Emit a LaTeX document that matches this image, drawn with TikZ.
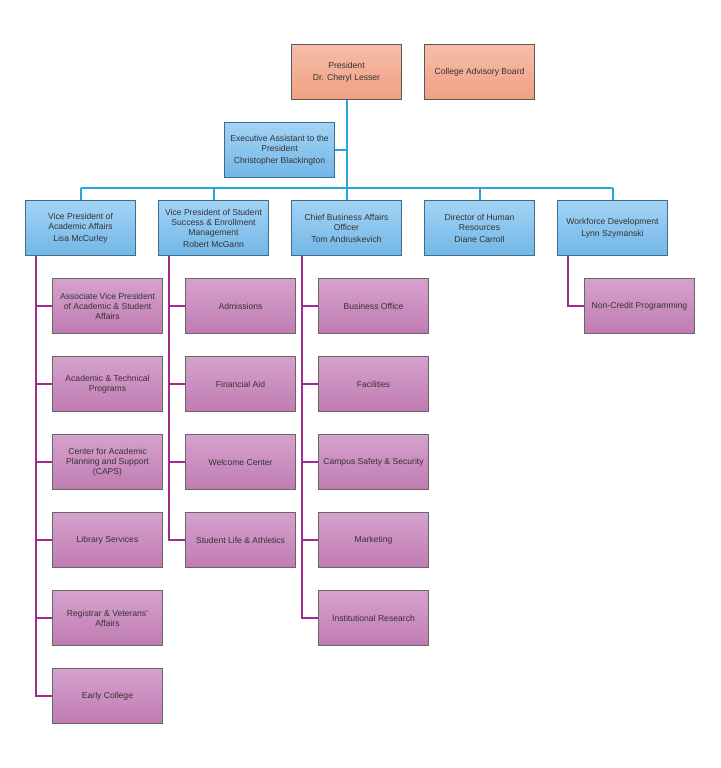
\documentclass[tikz,border=0pt]{standalone}
\usepackage{fontspec}
\setmainfont{Liberation Sans}
\begin{document}
\begin{tikzpicture}[x=1pt,y=-1pt,
  base/.style={minimum width=110pt,minimum height=55pt,inner sep=1pt,align=center,
    font=\fontsize{8.6}{10}\selectfont,text=black!80,line width=0.6pt},
  orangebox/.style={base,draw=black!65,top color=orgT,bottom color=orgB},
  bluebox/.style={base,draw=blueD,top color=bluT,bottom color=bluB},
  purplebox/.style={base,draw=black!60,top color=purT,bottom color=purB},
  bline/.style={draw=lineB,line width=2pt},
  pline/.style={draw=lineP,line width=1.6pt}]
\definecolor{orgT}{HTML}{F6BDA8}
\definecolor{orgB}{HTML}{F0A082}
\definecolor{bluT}{HTML}{A3D3F5}
\definecolor{bluB}{HTML}{72B7E7}
\definecolor{blueD}{HTML}{3E6B8F}
\definecolor{purT}{HTML}{D6A1CD}
\definecolor{purB}{HTML}{C07CB2}
\definecolor{lineB}{HTML}{2AA5DC}
\definecolor{lineP}{HTML}{A02A90}
\useasboundingbox (0,0) rectangle (720,768);
\fill[white] (0,0) rectangle (720,768);

\coordinate (busL) at (80.5,188);
\coordinate (busR) at (612.5,188);

\node[orangebox] (pres) at (346.5,72) {President\\[2pt]Dr. Cheryl Lesser};
\node[orangebox] (cab) at (479.5,72) {College Advisory Board};
\node[bluebox] (exec) at (279.5,150) {Executive Assistant to the\\President\\[2pt]Christopher Blackington};

\node[bluebox] (vpaa) at (80.5,228) {Vice President of\\Academic Affairs\\[2pt]Lisa McCurley};
\node[bluebox] (vpss) at (213.5,228) {Vice President of Student\\Success \& Enrollment\\Management\\[2pt]Robert McGann};
\node[bluebox] (cbao) at (346.5,228) {Chief Business Affairs\\Officer\\[2pt]Tom Andruskevich};
\node[bluebox] (dhr) at (479.5,228) {Director of Human\\Resources\\[2pt]Diane Carroll};
\node[bluebox] (wfd) at (612.5,228) {Workforce Development\\[2pt]Lynn Szymanski};

\node[purplebox] (a1) at (107.5,306) {Associate Vice President\\of Academic \& Student\\Affairs};
\node[purplebox] (a2) at (107.5,384) {Academic \& Technical\\Programs};
\node[purplebox] (a3) at (107.5,462) {Center for Academic\\Planning and Support\\(CAPS)};
\node[purplebox] (a4) at (107.5,540) {Library Services};
\node[purplebox] (a5) at (107.5,618) {Registrar \& Veterans'\\Affairs};
\node[purplebox] (a6) at (107.5,696) {Early College};

\node[purplebox] (b1) at (240.5,306) {Admissions};
\node[purplebox] (b2) at (240.5,384) {Financial Aid};
\node[purplebox] (b3) at (240.5,462) {Welcome Center};
\node[purplebox] (b4) at (240.5,540) {Student Life \& Athletics};

\node[purplebox] (c1) at (373.5,306) {Business Office};
\node[purplebox] (c2) at (373.5,384) {Facilities};
\node[purplebox] (c3) at (373.5,462) {Campus Safety \& Security};
\node[purplebox] (c4) at (373.5,540) {Marketing};
\node[purplebox] (c5) at (373.5,618) {Institutional Research};

\node[purplebox] (e1) at (639.5,306) {Non-Credit Programming};

% blue connectors
\draw[bline] (pres.south) -- (pres.south |- busL);
\draw[bline] (exec.east) -- (exec.east -| pres.south);
\draw[bline] (busL) -- (busR);
\foreach \n in {vpaa,vpss,cbao,dhr,wfd}{
  \draw[bline] (\n.north) -- (\n.north |- busL);
}
% purple connectors
\foreach \n in {a1,a2,a3,a4,a5,a6}{
  \draw[pline] ([xshift=11pt]vpaa.south west) |- (\n.west);
}
\foreach \n in {b1,b2,b3,b4}{
  \draw[pline] ([xshift=11pt]vpss.south west) |- (\n.west);
}
\foreach \n in {c1,c2,c3,c4,c5}{
  \draw[pline] ([xshift=11pt]cbao.south west) |- (\n.west);
}
\draw[pline] ([xshift=11pt]wfd.south west) |- (e1.west);
\end{tikzpicture}
\end{document}
